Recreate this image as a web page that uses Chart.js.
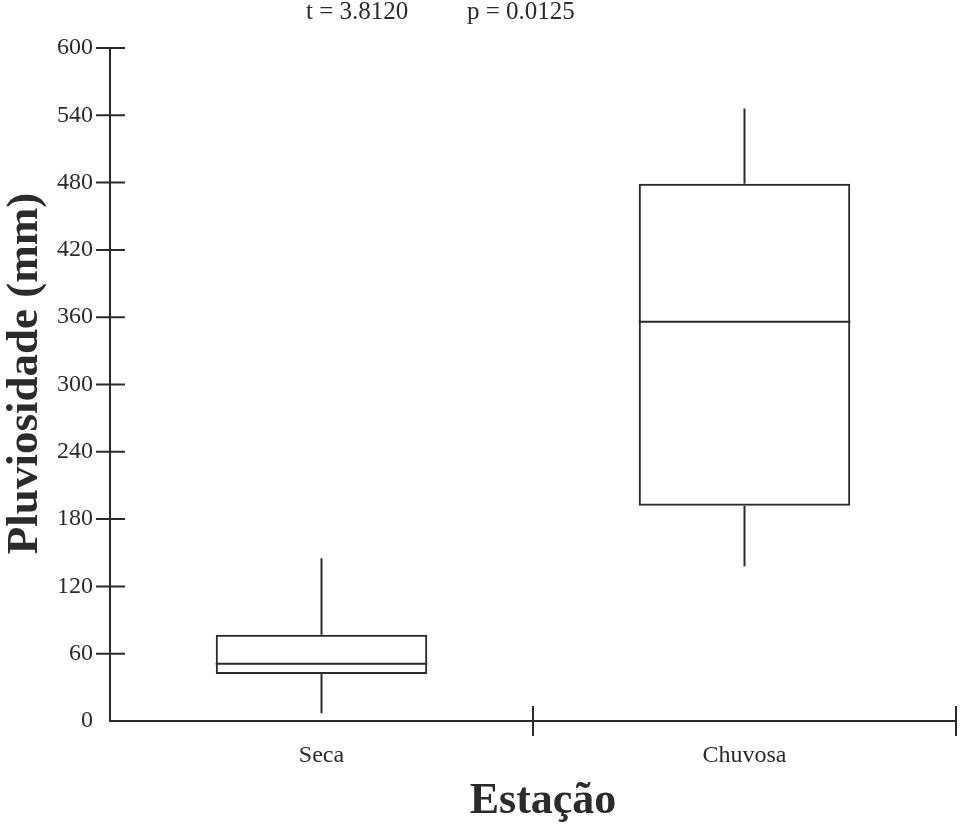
<!DOCTYPE html>
<html>
<head>
<meta charset="utf-8">
<script src="https://cdn.jsdelivr.net/npm/chart.js@4"></script>
<style>
    html, body { margin: 0; padding: 0; background: #ffffff; }
    #wrap { width: 970px; height: 829px; }
</style>
</head>
<body>
<div id="wrap"><canvas id="boxChart"></canvas></div>
<script>
const categories = ['Seca', 'Chuvosa'];
const whiskerLow = [7, 138];
const quartile1 = [42, 192];
const medians = [51, 356];
const quartile3 = [77, 479];
const whiskerHigh = [145, 546];
const yTicks = [0, 60, 120, 180, 240, 300, 360, 420, 480, 540, 600];
const statsText = ['t = 3.8120', 'p = 0.0125'];
const xTitle = 'Estação';
const yTitle = 'Pluviosidade (mm)';

const INK = '#2b2b2b';
const SERIF = '"Liberation Serif", "DejaVu Serif", serif';

// median + whiskers + crossing tick marks, all through the scales
const boxExtras = {
    id: 'boxExtras',
    afterDatasetsDraw(chart) {
        const { ctx, chartArea, scales: { x, y } } = chart;
        const meta = chart.getDatasetMeta(0);
        ctx.save();
        ctx.strokeStyle = INK;
        ctx.lineWidth = 2;
        meta.data.forEach((bar, i) => {
            const half = bar.width / 2;
            const cx = x.getPixelForValue(i);
            const ym = y.getPixelForValue(medians[i]);
            ctx.beginPath();
            ctx.moveTo(cx - half, ym);
            ctx.lineTo(cx + half, ym);
            ctx.moveTo(cx, y.getPixelForValue(quartile3[i]));
            ctx.lineTo(cx, y.getPixelForValue(whiskerHigh[i]));
            ctx.moveTo(cx, y.getPixelForValue(quartile1[i]));
            ctx.lineTo(cx, y.getPixelForValue(whiskerLow[i]));
            ctx.stroke();
        });
        // y tick marks crossing the axis
        ctx.beginPath();
        y.ticks.forEach((t, i) => {
            if (t.value === 0) return;
            const py = y.getPixelForTick(i);
            ctx.moveTo(x.left - 14, py);
            ctx.lineTo(x.left + 15, py);
        });
        // x boundary marks between and after the categories
        for (let i = 1; i <= categories.length; i++) {
            const px = x.getPixelForValue(i - 0.5);
            ctx.moveTo(px, y.bottom - 15);
            ctx.lineTo(px, y.bottom + 15);
        }
        ctx.stroke();

        ctx.fillStyle = INK;
        // stats line above the plot
        ctx.font = '25px ' + SERIF;
        ctx.textBaseline = 'middle';
        ctx.textAlign = 'left';
        ctx.fillText(statsText[0], 306, 12);
        ctx.fillText(statsText[1], 467, 12);

        // axis titles, sat a little off-centre as in the original
        ctx.font = 'bold 44px ' + SERIF;
        ctx.textAlign = 'center';
        ctx.textBaseline = 'alphabetic';
        ctx.fillText(xTitle, (chartArea.left + chartArea.right) / 2 + 10, 813);

        ctx.font = 'bold 45px ' + SERIF;
        ctx.translate(37, (chartArea.top + chartArea.bottom) / 2 - 11);
        ctx.rotate(-Math.PI / 2);
        ctx.fillText(yTitle, 0, 0);
        ctx.restore();
    },
};

new Chart(document.getElementById('boxChart'), {
    type: 'bar',
    data: {
        labels: categories,
        datasets: [{
            data: categories.map((_, i) => [quartile1[i], quartile3[i]]),
            backgroundColor: 'rgba(0,0,0,0)',
            borderColor: INK,
            borderWidth: 2,
            borderSkipped: false,
            barPercentage: 0.5,
            categoryPercentage: 1,
        }],
    },
    options: {
        responsive: true,
        maintainAspectRatio: false,
        animation: false,
        layout: {
            padding: { top: 48, right: 14, left: 0, bottom: 0 },
        },
        plugins: {
            legend: { display: false },
            tooltip: { enabled: false },
        },
        scales: {
            x: {
                offset: true,
                grid: { display: false },
                border: { display: true, color: INK, width: 2 },
                ticks: {
                    color: INK,
                    padding: 12,
                    font: { family: SERIF, size: 24 },
                },
                afterFit(scale) {
                    scale.height = 108;
                },
            },
            y: {
                min: 0,
                max: 600,
                grid: { display: false },
                border: { display: true, color: INK, width: 2 },
                afterBuildTicks(scale) {
                    scale.ticks = yTicks.map((v) => ({ value: v }));
                },
                ticks: {
                    color: INK,
                    padding: 9,
                    font: { family: SERIF, size: 24 },
                },
                afterFit(scale) {
                    scale.width = 110;
                },
            },
        },
    },
    plugins: [boxExtras],
});
</script>
</body>
</html>
